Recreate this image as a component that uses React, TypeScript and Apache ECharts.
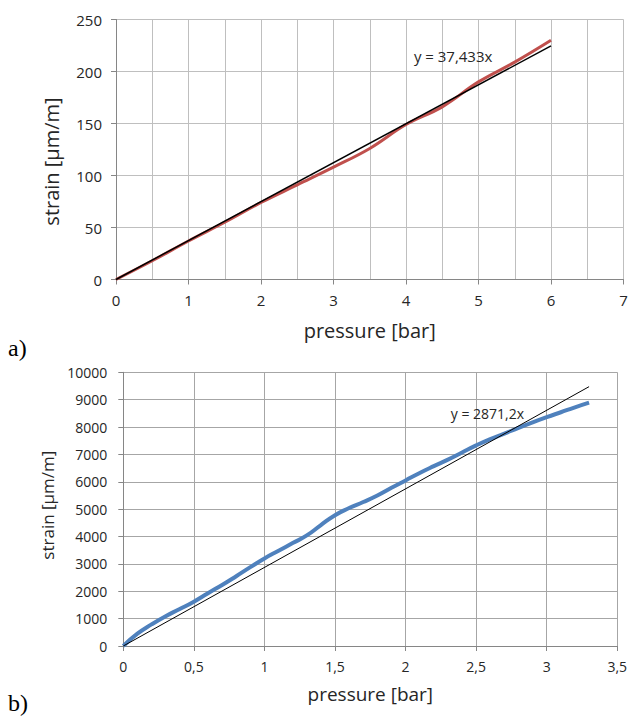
import React, { useEffect, useRef } from "react";
import * as echarts from "echarts";

// Chart a) – pressure [bar] vs strain [µm/m]
const topPressure = [0, 0.5, 1, 1.5, 2, 2.5, 3, 3.5, 4, 4.5, 5, 5.5, 6];
const topStrain = [0, 18, 37, 55, 74, 91, 108, 126, 149, 166, 190, 209, 230];
const topSlope = 37.433;
const topTrendX = [0, 6];
const topLabel = "y = 37,433x";
const topLabelPos = [4.65, 215];

// Chart b)
const botPressure = [
  0, 0.1, 0.2, 0.3, 0.4, 0.5, 0.6, 0.7, 0.8, 0.9, 1.0, 1.1, 1.2, 1.3, 1.4, 1.5, 1.6,
  1.7, 1.8, 1.9, 2.0, 2.1, 2.2, 2.3, 2.4, 2.5, 2.6, 2.7, 2.8, 2.9, 3.0, 3.1, 3.2, 3.3,
];
const botStrain = [
  0, 450, 790, 1090, 1350, 1620, 1930, 2230, 2550, 2880, 3200, 3480, 3760, 4040, 4420,
  4780, 5040, 5260, 5500, 5780, 6050, 6320, 6570, 6810, 7070, 7330, 7560, 7760, 7970,
  8170, 8360, 8540, 8720, 8890,
];
const botSlope = 2871.2;
const botTrendX = [0, 3.3];
const botLabel = "y = 2871,2x";
const botLabelPos = [2.58, 8480];

const FONT = "Open Sans";

export default function App() {
  const ref = useRef<HTMLDivElement>(null);
  useEffect(() => {
    if (!ref.current) return;
    const chart = echarts.init(ref.current, null, { renderer: "svg" });
    const comma = (v: number) => String(v).replace(".", ",");
    const topTick = { color: "#262626", fontFamily: FONT, fontSize: 15 };
    const botTick = { color: "#262626", fontFamily: FONT, fontSize: 14 };
    const option: any = {
      animation: false,
      backgroundColor: "#ffffff",
      grid: [
        { left: 116, top: 19.5, right: 8.5, bottom: 438.5, containLabel: false },
        { left: 123.3, top: 372.3, right: 14.7, bottom: 72, containLabel: false },
      ],
      xAxis: [
        {
          type: "value",
          gridIndex: 0,
          min: 0,
          max: 7,
          interval: 1,
          name: "pressure [bar]",
          nameLocation: "middle",
          nameGap: 41,
          nameTextStyle: { color: "#262626", fontFamily: FONT, fontSize: 20 },
          axisLine: { show: true, lineStyle: { color: "#868686", width: 1 } },
          axisTick: { show: true, length: 5, lineStyle: { color: "#868686" } },
          axisLabel: { ...topTick, margin: 13, formatter: (v: number) => String(v) },
          splitLine: { show: true, lineStyle: { color: "#bfbfbf", width: 1 } },
          minorTick: { show: false, splitNumber: 2 },
          minorSplitLine: { show: true, lineStyle: { color: "#bfbfbf", width: 1 } },
        },
        {
          type: "value",
          gridIndex: 1,
          min: 0,
          max: 3.5,
          interval: 0.5,
          name: "pressure [bar]",
          nameLocation: "middle",
          nameGap: 38,
          nameTextStyle: { color: "#262626", fontFamily: FONT, fontSize: 19 },
          axisLine: { show: true, lineStyle: { color: "#868686", width: 1 } },
          axisTick: { show: true, length: 5, lineStyle: { color: "#868686" } },
          axisLabel: { ...botTick, margin: 13, formatter: (v: number) => comma(v) },
          splitLine: { show: true, lineStyle: { color: "#a6a6a6", width: 1 } },
        },
      ],
      yAxis: [
        {
          type: "value",
          gridIndex: 0,
          min: 0,
          max: 250,
          interval: 50,
          name: "strain [µm/m]",
          nameLocation: "middle",
          nameGap: 55,
          nameRotate: 90,
          nameTextStyle: {
            color: "#262626",
            fontFamily: FONT,
            fontSize: 20,
            padding: [0, 24, 0, 0],
          },
          axisLine: { show: true, lineStyle: { color: "#868686", width: 1 } },
          axisTick: { show: true, length: 5, lineStyle: { color: "#868686" } },
          axisLabel: { ...topTick, margin: 14, formatter: (v: number) => String(v) },
          splitLine: { show: true, lineStyle: { color: "#bfbfbf", width: 1 } },
        },
        {
          type: "value",
          gridIndex: 1,
          min: 0,
          max: 10000,
          interval: 1000,
          name: "strain [µm/m]",
          nameLocation: "middle",
          nameGap: 61,
          nameRotate: 90,
          nameTextStyle: {
            color: "#262626",
            fontFamily: FONT,
            fontSize: 17,
            padding: [0, 0, 0, 8],
          },
          axisLine: { show: true, lineStyle: { color: "#868686", width: 1 } },
          axisTick: { show: true, length: 5, lineStyle: { color: "#868686" } },
          axisLabel: { ...botTick, margin: 16, formatter: (v: number) => String(v) },
          splitLine: { show: true, lineStyle: { color: "#a6a6a6", width: 1 } },
        },
      ],
      series: [
        {
          type: "line",
          xAxisIndex: 0,
          yAxisIndex: 0,
          data: topPressure.map((x, i) => [x, topStrain[i]]),
          smooth: 0.4,
          showSymbol: false,
          lineStyle: { color: "#c0504d", width: 3 },
          z: 2,
        },
        {
          type: "line",
          xAxisIndex: 0,
          yAxisIndex: 0,
          data: topTrendX.map((x) => [x, topSlope * x]),
          showSymbol: false,
          lineStyle: { color: "#000000", width: 1.5 },
          z: 3,
          markPoint: {
            symbol: "circle",
            symbolSize: 0,
            silent: true,
            label: {
              show: true,
              position: "inside",
              formatter: topLabel,
              color: "#262626",
              fontFamily: FONT,
              fontSize: 15,
            },
            data: [{ coord: topLabelPos }],
          },
        },
        {
          type: "line",
          xAxisIndex: 1,
          yAxisIndex: 1,
          data: botPressure.map((x, i) => [x, botStrain[i]]),
          smooth: 0.5,
          showSymbol: false,
          lineStyle: { color: "#4f81bd", width: 4 },
          z: 2,
        },
        {
          type: "line",
          xAxisIndex: 1,
          yAxisIndex: 1,
          data: botTrendX.map((x) => [x, botSlope * x]),
          showSymbol: false,
          lineStyle: { color: "#000000", width: 1 },
          z: 3,
          markPoint: {
            symbol: "circle",
            symbolSize: 0,
            silent: true,
            label: {
              show: true,
              position: "inside",
              formatter: botLabel,
              color: "#262626",
              fontFamily: FONT,
              fontSize: 14,
            },
            data: [{ coord: botLabelPos }],
          },
        },
      ],
      graphic: [
        {
          type: "text",
          left: 8,
          top: 336,
          style: { text: "a)", fontFamily: "Liberation Serif", fontSize: 24, fill: "#000" },
        },
        {
          type: "text",
          left: 8,
          top: 691,
          style: { text: "b)", fontFamily: "Liberation Serif", fontSize: 24, fill: "#000" },
        },
      ],
    };
    chart.setOption(option);
    return () => chart.dispose();
  }, []);
  return (
    <div
      ref={ref}
      style={{ position: "absolute", left: 0, top: 0, width: 632, height: 718, background: "#fff" }}
    />
  );
}
